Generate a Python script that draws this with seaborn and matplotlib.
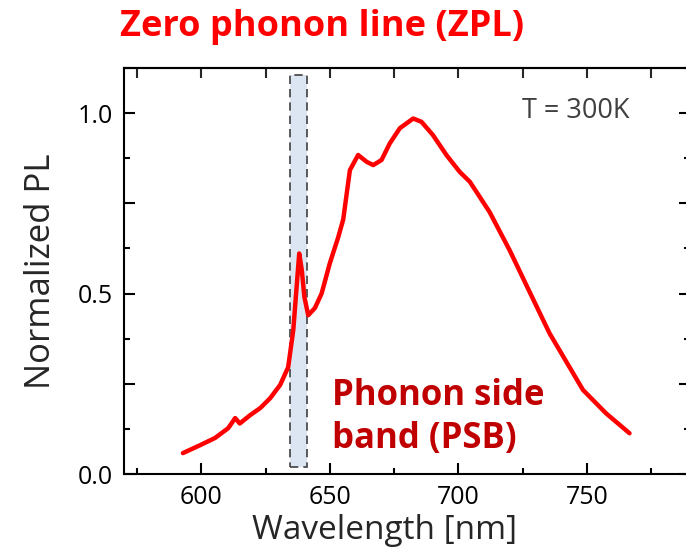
import pandas as pd
import seaborn as sns
import matplotlib.pyplot as plt
from matplotlib.ticker import MultipleLocator, FixedLocator, NullFormatter

# PL spectrum (T = 300K)
wavelength = [592.9, 599.6, 605.4, 610.5, 613.2, 615.0, 619.0, 623.0, 626.8, 630.7,
              633.8, 635.8, 637.1, 638.1, 639.1, 640.1, 641.6, 644.2, 646.8, 650.0,
              653.3, 655.2, 657.8, 661.0, 664.3, 666.9, 670.1, 673.3, 677.2, 682.4,
              685.6, 690.1, 695.3, 700.5, 704.4, 712.1, 719.9, 727.7, 735.4, 748.4,
              757.4, 766.5]
norm_pl = [0.058, 0.080, 0.100, 0.127, 0.155, 0.140, 0.163, 0.183, 0.210, 0.247,
           0.296, 0.399, 0.519, 0.611, 0.565, 0.491, 0.440, 0.460, 0.500, 0.584,
           0.657, 0.705, 0.842, 0.884, 0.865, 0.856, 0.870, 0.916, 0.958, 0.985,
           0.976, 0.939, 0.884, 0.837, 0.810, 0.726, 0.620, 0.504, 0.390, 0.233,
           0.168, 0.113]

# ZPL window
zpl_band = (634.5, 641.2)

df = pd.DataFrame({'Wavelength': wavelength, 'PL': norm_pl})

sns.set_theme(style='ticks')
plt.rcParams['font.family'] = ['Open Sans', 'DejaVu Sans']

fig = plt.figure(figsize=(6.86, 5.55), dpi=100)
ax = fig.add_axes([0.1808, 0.1459, 0.8250, 0.7316])

# shaded ZPL window
ax.axvspan(zpl_band[0], zpl_band[1], ymin=0.017, ymax=0.982,
           facecolor='#dce6f2', edgecolor='#404040', linestyle=(0, (5, 3)),
           linewidth=1.2, zorder=1)

sns.lineplot(data=df, x='Wavelength', y='PL', ax=ax, color='#ff0000',
             linewidth=3.2, zorder=3)

ax.set_xlim(570, 790)
ax.set_ylim(0, 1.125)

ax.xaxis.set_major_locator(FixedLocator([600, 650, 700, 750]))
ax.xaxis.set_minor_locator(FixedLocator([575, 625, 675, 725, 775]))
ax.yaxis.set_minor_locator(MultipleLocator(0.125))
ax.set_yticks([0, 0.25, 0.5, 0.75, 1.0])
ax.set_yticklabels(['0.0', '', '0.5', '', '1.0'])

ax.tick_params(which='both', direction='in', width=1.5, colors='black',
               labelsize=18, pad=8, right=True, top=False)
ax.tick_params(which='major', length=8)
ax.tick_params(which='minor', length=4)

top = ax.secondary_xaxis('top')
top.set_xticks([575, 600, 625, 650, 675, 700, 725, 750, 775])
top.xaxis.set_major_formatter(NullFormatter())
top.tick_params(direction='in', length=7, width=1.5)
top.spines['top'].set_linewidth(1.5)

for s in ax.spines.values():
    s.set_linewidth(1.5)
    s.set_color('black')

ax.set_xlabel('Wavelength [nm]', fontsize=24)
ax.xaxis.set_label_coords(0.461, -0.098)
ax.set_ylabel('Normalized PL', fontsize=25, labelpad=14)

ax.text(0.703, 0.895, 'T = 300K', transform=ax.transAxes, fontsize=19.5,
        color='#404040', va='center', ha='left')
ax.text(0.368, 0.14, 'Phonon side\nband (PSB)', transform=ax.transAxes,
        fontsize=25, fontweight='bold', color='#c00000', va='center',
        ha='left', linespacing=1.25)

fig.text(0.175, 0.952, 'Zero phonon line (ZPL)', fontsize=26,
         fontweight='bold', color='#ff0000', va='center', ha='left')

fig.savefig('out.png', dpi=100)
